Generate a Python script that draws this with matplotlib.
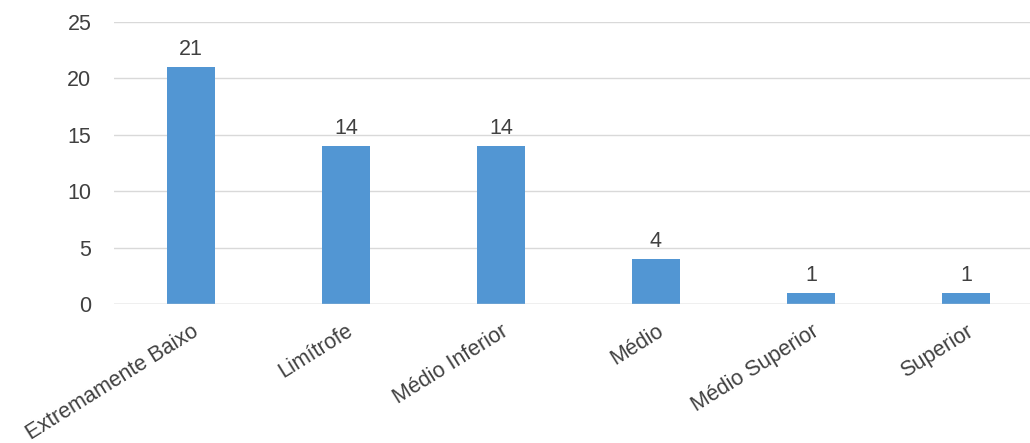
import matplotlib

matplotlib.use("Agg")
import matplotlib.pyplot as plt

categories = ["Extremamente Baixo", "Limítrofe", "Médio Inferior", "Médio",
              "Médio Superior", "Superior"]
counts = [21, 14, 14, 4, 1, 1]
yticks = [0, 5, 10, 15, 20, 25]

plt.rcParams["font.family"] = ["Liberation Sans", "DejaVu Sans"]
text_color = "#404040"
fs = 15.5

fig = plt.figure(figsize=(10.30, 4.43), dpi=100)
ax = fig.add_axes([113.5 / 1030, 139 / 443, 930 / 1030, 282 / 443])

x = range(len(categories))
bars = ax.bar(x, counts, width=0.31, color="#5296D3", zorder=3)
for b, v in zip(bars, counts):
    ax.annotate(str(v), (b.get_x() + b.get_width() / 2, v), xytext=(0, 5),
                textcoords="offset points", ha="center", va="bottom",
                fontsize=fs, color=text_color)

ax.set_xlim(-0.5, len(categories) - 0.5)
ax.set_ylim(0, 25)
ax.set_yticks(yticks)
ax.yaxis.grid(True, color="#D9D9D9", linewidth=1, zorder=0)
for s in ax.spines.values():
    s.set_visible(False)
ax.axhline(0, color="#D0D0D0", linewidth=1, zorder=4)
ax.tick_params(axis="both", length=0, labelsize=fs, colors=text_color)
ax.tick_params(axis="y", pad=16)

ax.set_xticks(list(x))
ax.set_xticklabels(categories, rotation=32, ha="right", va="top",
                   rotation_mode="anchor", fontsize=fs, color=text_color)
ax.tick_params(axis="x", pad=12)

fig.savefig("out.png", dpi=100)
